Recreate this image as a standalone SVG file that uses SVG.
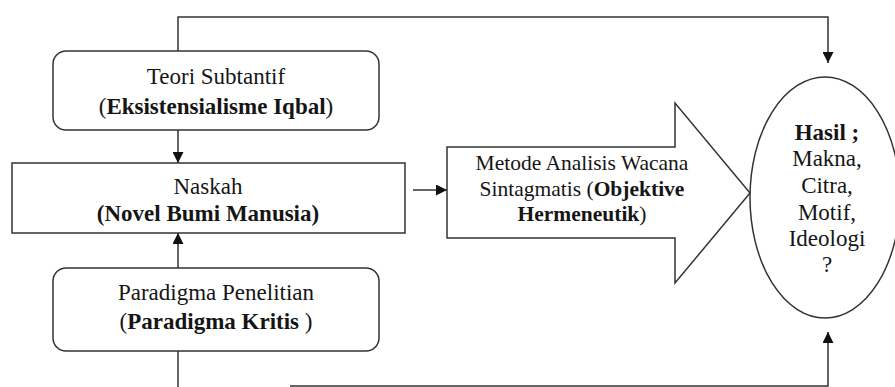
<svg xmlns="http://www.w3.org/2000/svg" width="895" height="387" viewBox="0 0 895 387">
<style>
  .box{fill:#fff;stroke:#333;stroke-width:1.5}
  .ln{fill:none;stroke:#333;stroke-width:1.5}
  text{font-family:"Liberation Serif","Times New Roman",serif;fill:#151515;text-anchor:middle}
  .t22{font-size:23px}
  .t20{font-size:21.5px}
  .b{font-weight:bold}
</style>
<defs>
  <marker id="ah" markerWidth="11" markerHeight="11" refX="11" refY="5.5" orient="auto" markerUnits="userSpaceOnUse">
    <path d="M0,0 L11,5.5 L0,11 Z" fill="#111"/>
  </marker>
</defs>
<rect width="895" height="387" fill="#fff"/>

<g id="connectors">
  <path class="ln" d="M178,51 V17 H828 V63" marker-end="url(#ah)"/>
  <path class="ln" d="M178,130 V163" marker-end="url(#ah)"/>
  <path class="ln" d="M178,268 V233" marker-end="url(#ah)"/>
  <path class="ln" d="M178,351 V387"/>
  <path class="ln" d="M290,386 H828 V332" marker-end="url(#ah)"/>
  <path class="ln" d="M413,190 H447" marker-end="url(#ah)"/>
</g>

<g id="teori">
  <rect class="box" x="53" y="51" width="326" height="79" rx="13"/>
  <text class="t22" x="216" y="84">Teori Subtantif</text>
  <text class="t22" x="216" y="114">(<tspan class="b">Eksistensialisme Iqbal</tspan>)</text>
</g>

<g id="naskah">
  <rect class="box" x="12" y="163" width="393" height="70"/>
  <text class="t22" x="208" y="194">Naskah</text>
  <text class="t22 b" x="208" y="221">(Novel Bumi Manusia)</text>
</g>

<g id="paradigma">
  <rect class="box" x="53" y="268" width="326" height="83" rx="13"/>
  <text class="t22" x="216" y="300">Paradigma Penelitian</text>
  <text class="t22" x="216" y="329">(<tspan class="b">Paradigma Kritis </tspan>)</text>
</g>

<g id="metode">
  <path class="box" d="M447,147 H675 V103 L750,193 L675,283 V238 H447 Z"/>
  <text class="t20" x="582" y="170">Metode Analisis Wacana</text>
  <text class="t20" x="582" y="196">Sintagmatis (<tspan class="b">Objektive</tspan></text>
  <text class="t20" x="582" y="221"><tspan class="b">Hermeneutik</tspan>)</text>
</g>

<g id="hasil">
  <ellipse class="box" cx="825" cy="197.5" rx="75" ry="120.5"/>
  <text class="t22 b" x="827" y="140">Hasil ;</text>
  <text class="t22" x="827" y="166">Makna,</text>
  <text class="t22" x="827" y="193">Citra,</text>
  <text class="t22" x="827" y="220">Motif,</text>
  <text class="t22" x="827" y="246">Ideologi</text>
  <text class="t22" x="827" y="272">?</text>
</g>
</svg>
